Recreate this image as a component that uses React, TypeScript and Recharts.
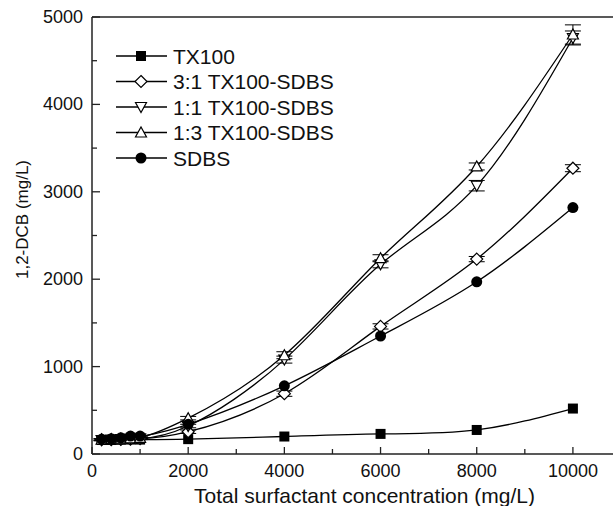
import { ErrorBar, Label, Line, LineChart, ReferenceLine, XAxis, YAxis } from "recharts";

const concentrations = [200, 400, 600, 800, 1000, 2000, 4000, 6000, 8000, 10000];
const tx100 = [160, 160, 162, 165, 165, 170, 200, 230, 275, 520];
const tx31 = [165, 165, 168, 170, 175, 255, 690, 1460, 2230, 3270];
const tx11 = [160, 165, 170, 175, 180, 320, 1080, 2170, 3070, 4760];
const tx13 = [165, 170, 175, 180, 185, 410, 1130, 2240, 3290, 4800];
const sdbs = [170, 175, 185, 205, 205, 340, 780, 1350, 1970, 2820];
const err31 = [10, 10, 10, 10, 10, 20, 30, 30, 30, 40];
const err11 = [10, 10, 10, 10, 10, 20, 40, 40, 60, 80];
const err13 = [10, 10, 10, 10, 10, 20, 40, 40, 40, 110];

const xTicks = [0, 1000, 2000, 3000, 4000, 5000, 6000, 7000, 8000, 9000, 10000];
const yTicks = [0, 500, 1000, 1500, 2000, 2500, 3000, 3500, 4000, 4500, 5000];

const data = concentrations.map((c, i) => ({
  c,
  tx100: tx100[i],
  tx31: tx31[i],
  tx11: tx11[i],
  tx13: tx13[i],
  sdbs: sdbs[i],
  e31: err31[i],
  e11: err11[i],
  e13: err13[i],
}));

const FONT = "'Liberation Sans', Arial, sans-serif";

function Marker({ kind, cx, cy }: { kind: string; cx: number; cy: number }) {
  const s = 5.5;
  if (kind === "square")
    return <rect x={cx - 5} y={cy - 5} width={10} height={10} fill="#000" />;
  if (kind === "diamond")
    return (
      <polygon
        points={`${cx},${cy - 6} ${cx + 6},${cy} ${cx},${cy + 6} ${cx - 6},${cy}`}
        fill="#fff"
        stroke="#000"
        strokeWidth={1.2}
      />
    );
  if (kind === "down")
    return (
      <polygon
        points={`${cx - s},${cy - 4.5} ${cx + s},${cy - 4.5} ${cx},${cy + 5.5}`}
        fill="#fff"
        stroke="#000"
        strokeWidth={1.2}
      />
    );
  if (kind === "up")
    return (
      <polygon
        points={`${cx - s},${cy + 4.5} ${cx + s},${cy + 4.5} ${cx},${cy - 5.5}`}
        fill="#fff"
        stroke="#000"
        strokeWidth={1.2}
      />
    );
  return <circle cx={cx} cy={cy} r={5.5} fill="#000" />;
}

const series = [
  { key: "tx100", name: "TX100", kind: "square" },
  { key: "tx31", name: "3:1 TX100-SDBS", kind: "diamond", err: "e31" },
  { key: "tx11", name: "1:1 TX100-SDBS", kind: "down", err: "e11" },
  { key: "tx13", name: "1:3 TX100-SDBS", kind: "up", err: "e13" },
  { key: "sdbs", name: "SDBS", kind: "circle" },
];

function LegendBox() {
  return (
    <svg width={280} height={130} style={{ position: "absolute", left: 113, top: 44 }}>
      {series.map((s, i) => {
        const y = 12 + i * 25.5;
        return (
          <g key={s.key}>
            <line x1={3} x2={54} y1={y} y2={y} stroke="#000" strokeWidth={1.3} />
            <Marker kind={s.kind} cx={28} cy={y} />
            <text x={60} y={y + 7.5} fontSize={21} fontFamily={FONT} fill="#111">
              {s.name}
            </text>
          </g>
        );
      })}
    </svg>
  );
}

function YTick(props: any) {
  const { x, y, payload } = props;
  const major = payload.value % 1000 === 0;
  const ax = x + 9;
  return (
    <g>
      <line x1={ax} x2={ax + (major ? 8 : 5)} y1={y} y2={y} stroke="#222" strokeWidth={1.3} />
      {major && (
        <text x={x} y={y + 6} textAnchor="end" fontSize={18} fontFamily={FONT} fill="#111">
          {payload.value}
        </text>
      )}
    </g>
  );
}

function XTick(props: any) {
  const { x, y, payload } = props;
  const major = payload.value % 2000 === 0;
  const ay = y - 11;
  return (
    <g>
      <line x1={x} x2={x} y1={ay} y2={ay - (major ? 7 : 5)} stroke="#222" strokeWidth={1.3} />
      {major && (
        <text x={x} y={y + 12} textAnchor="middle" fontSize={18} fontFamily={FONT} fill="#111">
          {payload.value}
        </text>
      )}
    </g>
  );
}

export default function App() {
  return (
    <div
      style={{
        position: "absolute",
        left: 0,
        top: 0,
        width: 613,
        height: 506,
        overflow: "hidden",
        background: "#fff",
      }}
    >
      <LineChart width={640} height={506} data={data} margin={{ top: 17, right: 19, bottom: 0, left: 0 }}>
        <XAxis
          dataKey="c"
          type="number"
          domain={[0, 11000]}
          ticks={xTicks}
          interval={0}
          tickLine={false}
          tickSize={0}
          tickMargin={11}
          height={52}
          stroke="#222"
          strokeWidth={1.5}
          tick={<XTick />}
        >
          <Label
            value="Total surfactant concentration (mg/L)"
            position="insideBottom"
            offset={3}
            dx={8}
            style={{ fontSize: 21, fontFamily: FONT, fill: "#111" }}
          />
        </XAxis>
        <YAxis
          type="number"
          domain={[0, 5000]}
          ticks={yTicks}
          interval={0}
          tickLine={false}
          tickSize={0}
          tickMargin={9}
          width={92}
          stroke="#222"
          strokeWidth={1.5}
          tick={<YTick />}
        >
          <Label
            value="1,2-DCB (mg/L)"
            angle={-90}
            position="insideLeft"
            offset={22}
            dy={-16}
            style={{ fontSize: 17, fontFamily: FONT, fill: "#111", textAnchor: "middle" }}
          />
        </YAxis>
        <ReferenceLine y={5000} stroke="#222" strokeWidth={1.5} ifOverflow="visible" />
        {series.map((s) => (
          <Line
            key={s.key}
            dataKey={s.key}
            name={s.name}
            type="natural"
            stroke="#000"
            strokeWidth={1.3}
            isAnimationActive={false}
            dot={(p: any) => <Marker key={`${s.key}-${p.index}`} kind={s.kind} cx={p.cx} cy={p.cy} />}
            activeDot={false}
          >
            {s.err && (
              <ErrorBar dataKey={s.err} width={8} stroke="#000" strokeWidth={1} direction="y" />
            )}
          </Line>
        ))}
      </LineChart>
      <LegendBox />
    </div>
  );
}
